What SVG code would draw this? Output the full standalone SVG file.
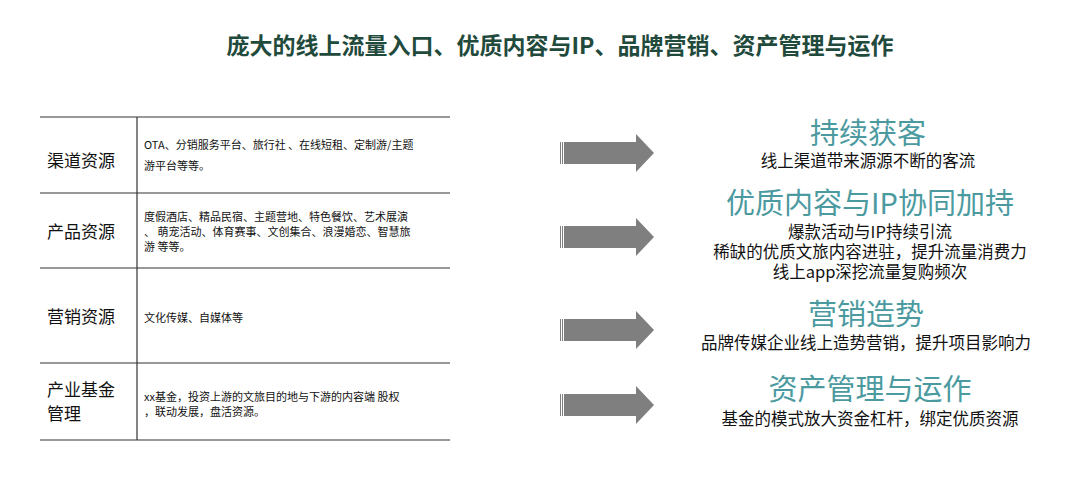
<svg xmlns="http://www.w3.org/2000/svg" width="1080" height="490" viewBox="0 0 1080 490">
<defs>
<style>
text{font-family:"Noto Sans CJK SC","Liberation Sans",sans-serif}
.t{font-size:23px;font-weight:bold;fill:#1f4a3c}
.lab{font-size:17px;fill:#111}
.d{font-size:11px;fill:#111}
.h{font-size:29px;fill:#4b9aa0;text-anchor:middle}
.s{font-size:16.5px;fill:#111;text-anchor:middle}
.ln{stroke:#333;stroke-width:1.2}
.ar{fill:#7f7f7f}
</style>
<g id="arrow"><rect x="560" y="-1" width="1" height="22" class="ar"/><rect x="562" y="-1" width="1" height="22" class="ar"/><polygon class="ar" points="564,-1 636,-1 636,-9 654,10 636,29 636,21 564,21"/></g>
</defs>
<rect width="1080" height="490" fill="#fff"/>
<text class="t" x="560" y="54" text-anchor="middle">庞大的线上流量入口、优质内容与IP、品牌营销、资产管理与运作</text>
<g id="table">
<line class="ln" x1="40" y1="117" x2="450" y2="117"/>
<line class="ln" x1="40" y1="193" x2="450" y2="193"/>
<line class="ln" x1="40" y1="268" x2="450" y2="268"/>
<line class="ln" x1="40" y1="363" x2="450" y2="363"/>
<line class="ln" x1="40" y1="440" x2="450" y2="440"/>
<line class="ln" x1="137" y1="117" x2="137" y2="440"/>
</g>
<g id="row1"><text class="lab" x="47" y="167">渠道资源</text>
<text class="d" x="144" y="149">OTA、分销服务平台、旅行社 、在线短租、定制游/主题</text><text class="d" x="144" y="170">游平台等等。</text></g>
<g id="row2"><text class="lab" x="47" y="238">产品资源</text>
<text class="d" x="144" y="221">度假酒店、精品民宿、主题营地、特色餐饮、艺术展演</text><text class="d" x="144" y="236">、 萌宠活动、体育赛事、文创集合、浪漫婚恋、智慧旅</text><text class="d" x="144" y="251">游 等等。</text></g>
<g id="row3"><text class="lab" x="47" y="323">营销资源</text>
<text class="d" x="144" y="322">文化传媒、自媒体等</text></g>
<g id="row4"><text class="lab" x="47" y="396">产业基金</text><text class="lab" x="47" y="420">管理</text>
<text class="d" x="144" y="401">xx基金，投资上游的文旅目的地与下游的内容端 股权</text><text class="d" x="144" y="416">，联动发展，盘活资源。</text></g>
<g id="connectors">
<use href="#arrow" y="143"/>
<use href="#arrow" y="227"/>
<use href="#arrow" y="320"/>
<use href="#arrow" y="395"/>
</g>
<g id="out1"><text class="h" x="868" y="144">持续获客</text><text class="s" x="868" y="167">线上渠道带来源源不断的客流</text></g>
<g id="out2"><text class="h" x="870" y="214">优质内容与IP协同加持</text><text class="s" x="870" y="238">爆款活动与IP持续引流</text><text class="s" x="870" y="258">稀缺的优质文旅内容进驻，提升流量消费力</text><text class="s" x="870" y="278">线上app深挖流量复购频次</text></g>
<g id="out3"><text class="h" x="866" y="325">营销造势</text><text class="s" x="866" y="349">品牌传媒企业线上造势营销，提升项目影响力</text></g>
<g id="out4"><text class="h" x="870" y="400">资产管理与运作</text><text class="s" x="870" y="425">基金的模式放大资金杠杆，绑定优质资源</text></g>
</svg>
